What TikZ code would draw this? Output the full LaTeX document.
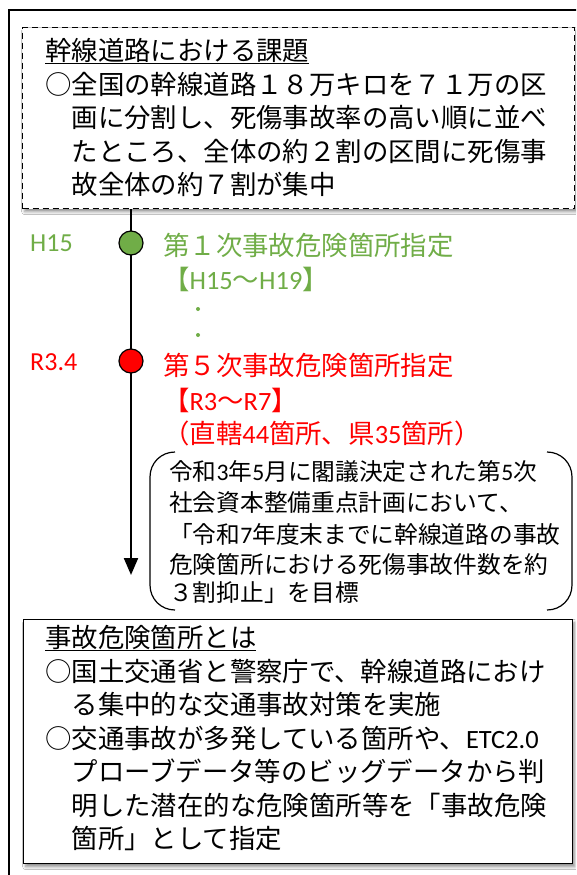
\documentclass[tikz,border=0pt]{standalone}
\usepackage{fontspec}
\setmainfont{Noto Sans CJK JP}
\newfontfamily\lat{Carlito}
\usetikzlibrary{arrows.meta,shadows.blur}
\definecolor{cgreen}{HTML}{70AD47}
\definecolor{cred}{HTML}{FF0000}
\begin{document}
\begin{tikzpicture}[x=1pt,y=-1pt,
  big/.style={inner sep=0pt, anchor=west, font=\fontsize{26.4}{33}\selectfont, text height=23.2pt, text depth=3.2pt},
  small/.style={inner sep=0pt, anchor=west, font=\fontsize{23.7}{30}\selectfont, text height=20.8pt, text depth=2.9pt},
  lab/.style={inner sep=0pt, anchor=west, font=\fontsize{26}{30}\lat},
  boxshadow/.style={blur shadow={shadow xshift=2pt, shadow yshift=-3pt, shadow blur radius=3pt, shadow opacity=45}},
  dbox/.style={draw=black, fill=white, dash pattern=on 6pt off 4pt, line width=1.3pt, boxshadow, inner sep=0pt, anchor=north west},
  sbox/.style={draw=black, fill=white, line width=1.4pt, boxshadow, inner sep=0pt, anchor=north west},
  event/.style={circle, draw=black, line width=1.2pt, minimum size=24pt, inner sep=0pt},
  dotmark/.style={circle, fill=cgreen, inner sep=0pt, minimum size=4pt},
  brk/.style={line width=1.2pt}]
\useasboundingbox (0,0) rectangle (576,875);
\clip (0,0) rectangle (576,875);
\fill[white] (0,0) rectangle (576,875);
% outer frame
\draw[line width=2.5pt] (9,10) rectangle (640,940);
% top dashed box
\node[dbox, minimum width=552pt, minimum height=181pt] (topbox) at (22,27) {};
\node[big] (t0) at (45,50) {\underline{幹線道路における課題}};
\node[big] (t1) at (45,84) {○全国の幹線道路１８万キロを７１万の区};
\node[big] (t2) at (71.4,117) {画に分割し、死傷事故率の高い順に並べ};
\node[big] (t3) at (71.4,151) {たところ、全体の約２割の区間に死傷事};
\node[big] (t4) at (71.4,184) {故全体の約７割が集中};
% timeline
\coordinate (tip) at (131,575);
\draw[line width=2.2pt, -{Triangle[width=14pt,length=17pt]}] (topbox.south -| tip) -- (tip);
\node[event, fill=cgreen] (c1) at (131,243) {};
\node[event, fill=cred] (c2) at (131,361) {};
\node[lab, text=cgreen] (h15) at (30,243) {H15};
\node[lab, text=cred] (r34) at (30,362) {R3.4};
\node[big, text=cgreen] (g1) at (163,245) {第１次事故危険箇所指定};
\node[big, text=cgreen] (g2) at (163,279) {【{\lat H15}～{\lat H19}】};
\node[dotmark] (d1) at (198,309) {};
\node[dotmark] (d2) at (198,335) {};
\node[big, text=cred] (r1) at (163,365) {第５次事故危険箇所指定};
\node[big, text=cred] (r2) at (163,400) {【{\lat R3}～{\lat R7}】};
\node[big, text=cred] (r3) at (163,433) {（直轄{\lat 44}箇所、県{\lat 35}箇所）};
% bracket box
\draw[brk] (175,452) .. controls (161,452) and (150,463) .. (150,477) -- (150,585) .. controls (150,599) and (161,610) .. (175,610);
\draw[brk] (547,452) .. controls (561,452) and (572,463) .. (572,477) -- (572,585) .. controls (572,599) and (561,610) .. (547,610);
\node[small] (b1) at (169,472) {令和{\lat 3}年{\lat 5}月に閣議決定された第{\lat 5}次};
\node[small] (b2) at (169,503) {社会資本整備重点計画において、};
\node[small] (b3) at (169,535) {「令和{\lat 7}年度末までに幹線道路の事故};
\node[small] (b4) at (169,565) {危険箇所における死傷事故件数を約};
\node[small] (b5) at (169,593) {３割抑止」を目標};
% bottom box
\node[sbox, minimum width=549pt, minimum height=244pt] (botbox) at (23,619) {};
\node[big] (e0) at (45,637) {\underline{事故危険箇所とは}};
\node[big] (e1) at (45,671) {○国土交通省と警察庁で、幹線道路におけ};
\node[big] (e2) at (71.4,704) {る集中的な交通事故対策を実施};
\node[big] (e3) at (45,738) {○交通事故が多発している箇所や、{\lat ETC2.0}};
\node[big] (e4) at (71.4,771) {プローブデータ等のビッグデータから判};
\node[big] (e5) at (71.4,805) {明した潜在的な危険箇所等を「事故危険};
\node[big] (e6) at (71.4,838) {箇所」として指定};
\end{tikzpicture}
\end{document}
